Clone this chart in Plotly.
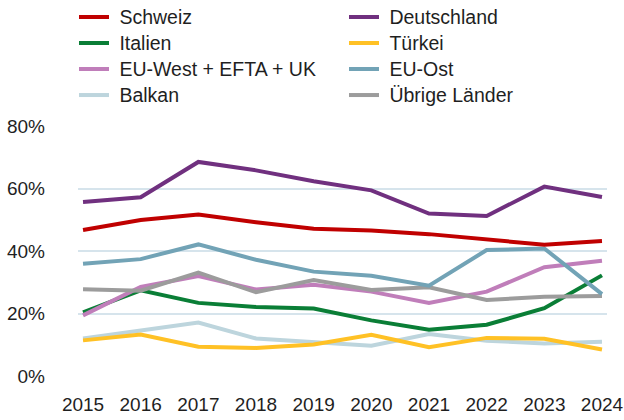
import plotly.graph_objects as go

years = [2015, 2016, 2017, 2018, 2019, 2020, 2021, 2022, 2023, 2024]

schweiz = [46.7, 49.9, 51.7, 49.2, 47.1, 46.6, 45.4, 43.8, 42.0, 43.2]
deutschland = [55.7, 57.2, 68.5, 65.8, 62.3, 59.4, 52.0, 51.2, 60.6, 57.3]
italien = [20.4, 27.4, 23.4, 22.1, 21.6, 17.8, 14.8, 16.4, 21.7, 32.2]
tuerkei = [11.4, 13.3, 9.4, 9.0, 10.1, 13.2, 9.2, 12.2, 11.9, 8.5]
eu_west = [19.4, 28.5, 32.0, 27.7, 29.2, 27.0, 23.4, 27.0, 34.8, 36.9]
eu_ost = [35.9, 37.4, 42.1, 37.2, 33.4, 32.1, 28.9, 40.3, 40.8, 26.2]
balkan = [12.0, 14.7, 17.1, 12.0, 10.8, 9.7, 13.4, 11.3, 10.4, 11.0]
uebrige = [27.8, 27.3, 33.1, 26.8, 30.7, 27.5, 28.4, 24.3, 25.4, 25.6]

series = [
    ("Schweiz", schweiz, "#C00000"),
    ("Deutschland", deutschland, "#70307F"),
    ("Italien", italien, "#0A7E36"),
    ("Türkei", tuerkei, "#FFC125"),
    ("EU-West + EFTA + UK", eu_west, "#C07EBA"),
    ("EU-Ost", eu_ost, "#72A3B6"),
    ("Balkan", balkan, "#BDD5DD"),
    ("Übrige Länder", uebrige, "#9C9C9C"),
]
legend_names = [s[0] for s in series]

# stacking of the lines: later traces are drawn on top
draw_order = ["Balkan", "Türkei", "Italien", "EU-West + EFTA + UK", "Übrige Länder",
              "EU-Ost", "Schweiz", "Deutschland"]

# plot area in pixels (figure is 624 x 420)
L, R, T, B = 78, 17, 126, 44
W, H = 624 - L - R, 420 - T - B

fig = go.Figure()
for name in draw_order:
    vals, color = next((v, c) for n, v, c in series if n == name)
    fig.add_trace(go.Scatter(
        x=years, y=vals, mode="lines",
        name=f"<span style='font-size:19.5px'>\u00a0{name}</span>",
        line=dict(color=color, width=4),
        legendrank=legend_names.index(name) + 1,
    ))

fig.update_layout(
    width=624, height=420,
    margin=dict(l=L, r=R, t=T, b=B, autoexpand=False),
    paper_bgcolor="white", plot_bgcolor="white",
    font=dict(family="Liberation Sans, Arial, sans-serif", size=19, color="#1F1F1F"),
    showlegend=True,
    legend=dict(
        orientation="h",
        x=(74 - L) / W, xanchor="left",
        y=(420 - B + 1) / H, yanchor="top",
        entrywidth=225, entrywidthmode="pixels",
        traceorder="normal",
        font=dict(size=17.7),
        bgcolor="rgba(0,0,0,0)",
        itemwidth=30,
        tracegroupgap=0,
    ),
    xaxis=dict(
        range=[2014.913, 2024.087],
        tickmode="array", tickvals=years, ticktext=[str(y) for y in years],
        showgrid=False, zeroline=False, showline=False,
        ticks="", ticklabelstandoff=15,
    ),
    yaxis=dict(
        range=[0, 80], tickvals=[0, 20, 40, 60, 80],
        ticktext=["0%", "20%", "40%", "60%", "80%"],
        showgrid=True, gridcolor="#D6E4EC", gridwidth=1.5,
        zeroline=False, showline=False,
        ticks="", ticklabelstandoff=32,
    ),
)

fig.write_html("out.html")
